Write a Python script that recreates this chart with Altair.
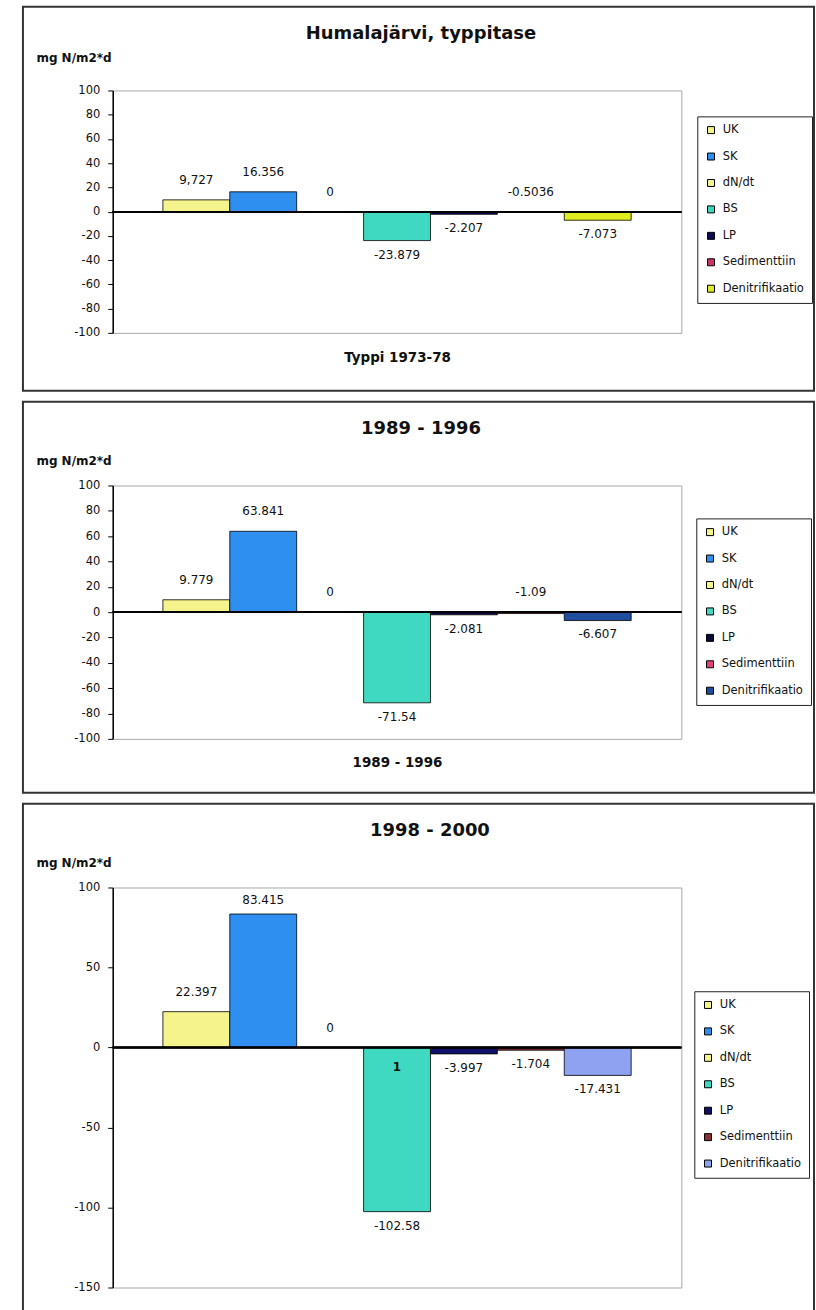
import altair as alt
import pandas as pd

# Nitrogen balance of lake Humalajärvi, three periods (mg N/m2*d)
SERIES = ["UK", "SK", "dN/dt", "BS", "LP", "Sedimenttiin", "Denitrifikaatio"]
Y_TITLE = "mg N/m2*d"

P1_TITLE = "Humalajärvi, typpitase"
P1_XTITLE = "Typpi 1973-78"
P1_VALUES = [9.727, 16.356, 0, -23.879, -2.207, -0.5036, -7.073]
P1_LABELS = ["9,727", "16.356", "0", "-23.879", "-2.207", "-0.5036", "-7.073"]
P1_COLORS = ["#f4f38c", "#2e8ff0", "#f4f38c", "#3fd8c0", "#0a0a55", "#cc3366", "#dfec1e"]
P1_TICKS = [-100, -80, -60, -40, -20, 0, 20, 40, 60, 80, 100]

P2_TITLE = "1989 - 1996"
P2_XTITLE = "1989 - 1996"
P2_VALUES = [9.779, 63.841, 0, -71.54, -2.081, -1.09, -6.607]
P2_LABELS = ["9.779", "63.841", "0", "-71.54", "-2.081", "-1.09", "-6.607"]
P2_COLORS = ["#f4f38c", "#2e8ff0", "#f4f38c", "#3fd8c0", "#08083a", "#e0457a", "#1f4e9e"]
P2_TICKS = [-100, -80, -60, -40, -20, 0, 20, 40, 60, 80, 100]

P3_TITLE = "1998 - 2000"
P3_VALUES = [22.397, 83.415, 0, -102.58, -3.997, -1.704, -17.431]
P3_LABELS = ["22.397", "83.415", "0", "-102.58", "-3.997", "-1.704", "-17.431"]
P3_COLORS = ["#f4f38c", "#2e8ff0", "#f4f38c", "#3fd8c0", "#10106a", "#8b2e35", "#8fa2f2"]
P3_TICKS = [-150, -100, -50, 0, 50, 100]
P3_NOTE_SERIES = ["BS"]
P3_NOTE_TEXT = ["1"]

FONT = "DejaVu Sans"
PLOT_W = 570


def panel(title, xtitle, values, labels, colors, ticks, height, lay,
          note_series=None, note_text=None):
    ymin, ymax = ticks[0], ticks[-1]
    upp = (ymax - ymin) / height  # data units per pixel

    df = pd.DataFrame({"series": SERIES, "value": values, "label": labels})
    # Labels sit above the bar end (or the zero line) for values near zero
    # and positives, below the bar end otherwise; kept inside the plot area.
    above = df["value"] > -1.5
    df["label_y"] = [
        min(max(v, 0) + 20 * upp, ymax - 13 * upp) if a else v - 14 * upp
        for v, a in zip(df["value"], above)
    ]

    xaxis_opts = dict(labels=False, ticks=False, domain=False)
    if xtitle:
        xaxis_opts.update(title=xtitle, titleFontWeight="bold", titleFontSize=13.5,
                          titlePadding=lay["xtitle_pad"], titleColor="#111")
    else:
        xaxis_opts.update(title=None)
    xaxis = alt.Axis(**xaxis_opts)
    xscale = alt.Scale(domain=SERIES, paddingInner=0, paddingOuter=0.75)

    yaxis = alt.Axis(values=ticks, tickCount=len(ticks) + 2, grid=False,
                     domainColor="black", domainWidth=1.5, tickColor="black",
                     tickSize=5, tickWidth=1, labelFontSize=11.5, labelPadding=8,
                     labelOverlap=False, labelBound=False,
                     labelColor="#111", labelExpr="'' + datum.value",
                     title=Y_TITLE, titleAngle=0, titleAlign="left",
                     titleBaseline="middle", titleX=-77,
                     titleY=lay["ytitle_y"], titleFontWeight="bold",
                     titleFontSize=12, titleColor="#111")
    yscale = alt.Scale(domain=[ymin, ymax], nice=False, zero=True)

    def xenc():
        return alt.X("series:N", sort=SERIES, scale=xscale, axis=xaxis)

    def yenc(field):
        return alt.Y(field, scale=yscale, axis=yaxis)

    color = alt.Color("series:N",
                      scale=alt.Scale(domain=SERIES, range=colors),
                      legend=alt.Legend(orient="none", legendX=lay["legend_x"],
                                        legendY=lay["legend_y"], title=None,
                                        strokeColor="#222", fillColor="white",
                                        padding=8, rowPadding=13.5,
                                        symbolType="square", symbolSize=49,
                                        symbolStrokeColor="black",
                                        symbolStrokeWidth=1, symbolOpacity=1,
                                        labelFontSize=11.5, labelOffset=6,
                                        labelColor="#111", labelLimit=200))

    base = alt.Chart(df)
    bars = base.mark_bar(stroke="black", strokeWidth=0.8, opacity=1).encode(
        x=xenc(), y=yenc("value:Q"), color=color)
    zero = base.mark_rule(color="black", strokeWidth=1.5).encode(y=alt.datum(0))
    text = base.mark_text(fontSize=12, color="#111", baseline="middle").encode(
        x=xenc(), y=yenc("label_y:Q"), text="label:N")

    layers = [bars, zero, text]

    if note_series:
        ndf = pd.DataFrame({"series": note_series, "text": note_text})
        ndf["ny"] = -20 * upp
        layers.append(alt.Chart(ndf).mark_text(fontSize=12, color="#111",
                                               fontWeight="bold").encode(
            x=xenc(), y=yenc("ny:Q"), text="text:N"))

    tdf = pd.DataFrame({"t": [title]})
    head = alt.Chart(tdf).mark_text(fontSize=18, fontWeight="bold", color="#111",
                                    baseline="middle", align="center").encode(
        x=alt.value(lay["title_x"]), y=alt.value(-57), text="t:N")
    frame = alt.Chart(tdf).mark_rect(fill="white", fillOpacity=0,
                                     stroke="#333", strokeWidth=2).encode(
        x=alt.value(-90), x2=alt.value(703),
        y=alt.value(-84), y2=alt.value(height + lay["frame_bottom"]))
    layers += [head, frame]

    return alt.layer(*layers).properties(width=PLOT_W, height=height)


p1 = panel(P1_TITLE, P1_XTITLE, P1_VALUES, P1_LABELS, P1_COLORS, P1_TICKS, 243,
           dict(xtitle_pad=18, ytitle_y=-33, legend_x=586, legend_y=26,
                title_x=309, frame_bottom=58))
p2 = panel(P2_TITLE, P2_XTITLE, P2_VALUES, P2_LABELS, P2_COLORS, P2_TICKS, 254,
           dict(xtitle_pad=17, ytitle_y=-25, legend_x=585, legend_y=33,
                title_x=309, frame_bottom=54))
p3 = panel(P3_TITLE, None, P3_VALUES, P3_LABELS, P3_COLORS, P3_TICKS, 401,
           dict(ytitle_y=-25, legend_x=583, legend_y=104,
                title_x=318, frame_bottom=70),
           note_series=P3_NOTE_SERIES, note_text=P3_NOTE_TEXT)

chart = alt.vconcat(p1, p2, p3, spacing=7).resolve_scale(
    x="independent", y="independent", color="independent"
).resolve_legend(color="independent").properties(
    padding={"left": 21, "top": 3, "right": 0, "bottom": 0},
    background="white",
).configure(font=FONT).configure_view(
    stroke="#a8a8a8", strokeWidth=1
).configure_axisY(labelOverlap=False)

chart.save("out.html", embed_options={"renderer": "svg", "actions": False})
